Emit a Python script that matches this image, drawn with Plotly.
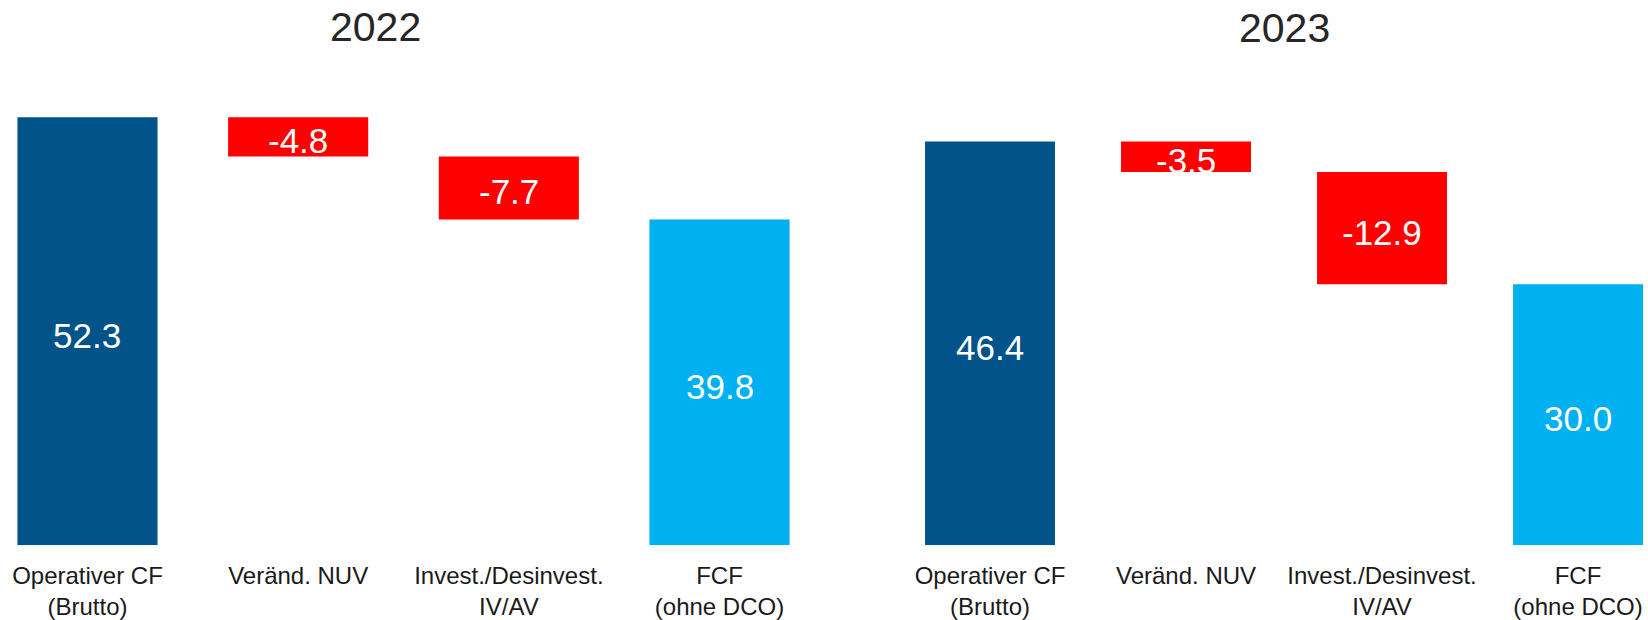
import plotly.graph_objects as go

categories = ["Operativer CF<br>(Brutto)", "Veränd. NUV", "Invest./Desinvest.<br>IV/AV", "FCF<br>(ohne DCO)"]
years = ["2022", "2023"]
values_2022 = [52.3, -4.8, -7.7, 39.8]
values_2023 = [46.4, -3.5, -12.9, 30.0]
bar_colors = ["#02538A", "#FF0000", "#FF0000", "#00B0F0"]

FONT = "Arial, 'Liberation Sans', sans-serif"


def waterfall_geometry(vals):
    bases, heights = [], []
    running = 0.0
    for i, v in enumerate(vals):
        if i == 0 or i == len(vals) - 1:
            bases.append(0.0)
            heights.append(v)
            running = v
        else:
            bases.append(running)
            heights.append(v)
            running += v
    return bases, heights


fig = go.Figure()
annotations = []
panels = [
    (values_2022, "x", "y", 0.665),
    (values_2023, "x2", "y2", 0.663),
]
xs = [0, 1, 2, 3]
for vals, xa, ya, w in panels:
    bases, heights = waterfall_geometry(vals)
    fig.add_trace(go.Bar(
        x=xs, y=heights, base=bases, width=w,
        marker=dict(color=bar_colors, line=dict(width=0)),
        xaxis=xa, yaxis=ya, showlegend=False, hoverinfo="skip",
    ))
    for xi, b, h, v in zip(xs, bases, heights, vals):
        annotations.append(dict(
            x=xi, y=b + h / 2, xref=xa, yref=ya, text=f"{v:.1f}",
            showarrow=False, xanchor="center", yanchor="middle", yshift=-4,
            font=dict(family=FONT, size=35, color="white"),
        ))

ydom = [1 - 547 / 620, 1 - 80 / 620]
common_x = dict(
    tickmode="array", tickvals=xs, ticktext=categories,
    showgrid=False, zeroline=False, showline=False, ticks="",
    tickfont=dict(family=FONT, size=24, color="#1A1A1A"),
    ticklabelstandoff=14,
    fixedrange=True,
)
common_y = dict(showgrid=False, zeroline=False, showline=False,
                showticklabels=False, ticks="", fixedrange=True)

annotations += [
    dict(text=years[0], x=375 / 1648, y=1 - 27 / 620, xref="paper", yref="paper",
         xanchor="center", yanchor="middle", showarrow=False,
         font=dict(family=FONT, size=41, color="#262626")),
    dict(text=years[1], x=1284 / 1648, y=1 - 28 / 620, xref="paper", yref="paper",
         xanchor="center", yanchor="middle", showarrow=False,
         font=dict(family=FONT, size=41, color="#262626")),
]

fig.update_layout(
    width=1648, height=620,
    margin=dict(l=0, r=0, t=0, b=0),
    paper_bgcolor="white", plot_bgcolor="white",
    xaxis=dict(domain=[0, 0.5], range=[-0.4153, 3.496], anchor="y", **common_x),
    xaxis2=dict(domain=[0.5, 1], range=[-0.847, 3.357], anchor="y2", **common_x),
    yaxis=dict(domain=ydom, range=[0, 56.87], anchor="x", **common_y),
    yaxis2=dict(domain=ydom, range=[0, 53.50], anchor="x2", **common_y),
    annotations=annotations,
)

fig.write_html("out.html", config={"displayModeBar": False},
               post_script="document.body.style.margin='0';")
